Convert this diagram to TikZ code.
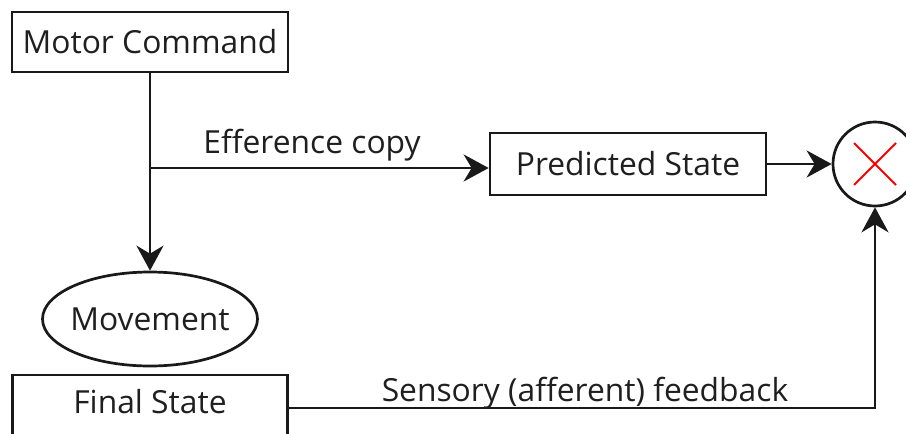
\documentclass[tikz,border=0pt]{standalone}
\usepackage{fontspec}
\setmainfont{Open Sans}
\usetikzlibrary{arrows.meta,shapes.geometric}
\begin{document}
\begin{tikzpicture}[x=1pt,y=-1pt,
  every node/.style={font=\fontsize{31.8}{36}\selectfont, text=black!88, inner sep=0pt},
  box/.style={draw=black!90, line width=2.7pt, minimum width=276pt, minimum height=60pt},
  arr/.style={draw=black!90, line width=2.7pt, -{Stealth[length=25pt,width=27pt,inset=8pt]}},
  ln/.style={draw=black!90, line width=2.7pt}]
\useasboundingbox (0,0) rectangle (906,434);
\clip (0,0) rectangle (906,434);
\node[box] (motor) at (150,42) {Motor Command};
\node[box, minimum height=62pt] (pred) at (628,164) {Predicted State};
\node[draw=black!90, line width=2.7pt, circle, minimum size=84pt] (circ) at (875,164) {};
\draw[red, line width=1.8pt] (854,143) -- (896,185) (854,185) -- (896,143);
\node[draw=black!90, line width=2.7pt, ellipse, inner sep=-5pt, minimum width=215pt, minimum height=94pt] (mov) at (150,319) {Movement};
\node[box, minimum width=275pt, minimum height=62pt, text depth=9pt] (final) at (150,406) {Final State};
\coordinate (br) at (150,168);
\draw[arr] (motor.south) -- (mov.north);
\draw[arr] (br) -- (br -| pred.west);
\draw[arr] (pred.east) -- (circ.west);
\draw[arr] (final.east |- 0,408) -| (circ.south);
\node[anchor=base] (eff) at (312,153) {Efference copy};
\node[anchor=base] (sens) at (585,401) {Sensory (afferent) feedback};
\end{tikzpicture}
\end{document}
